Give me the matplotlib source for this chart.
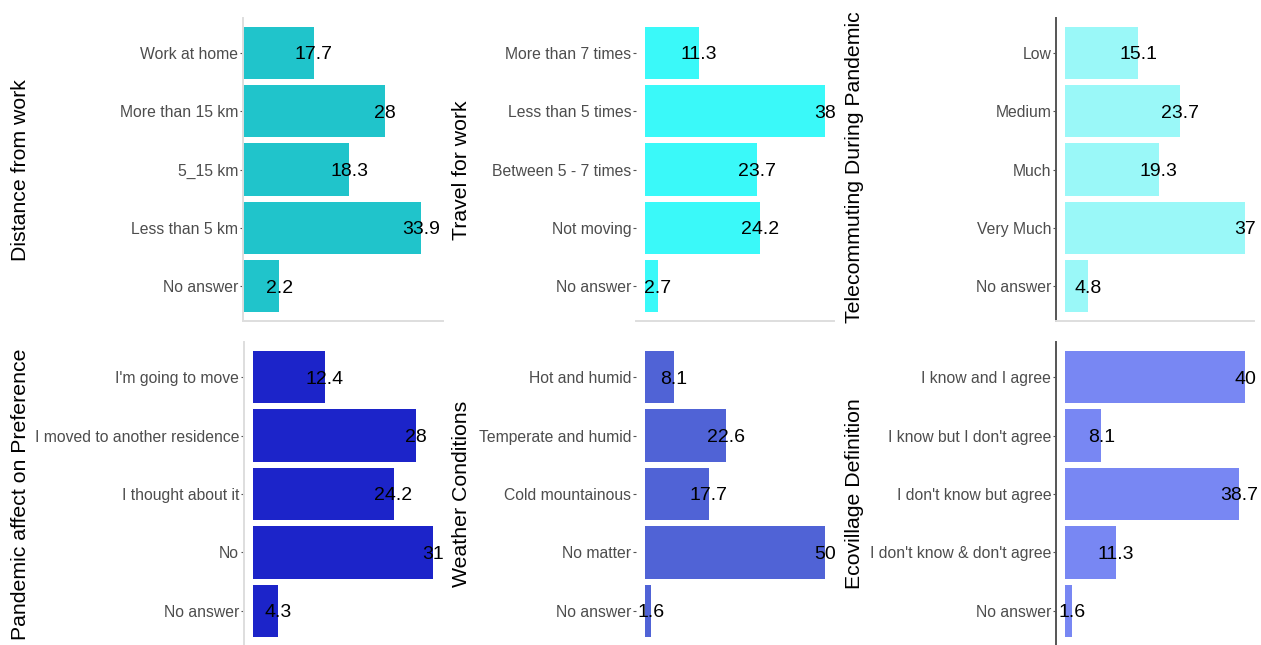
import numpy as np
import matplotlib
matplotlib.use('Agg')
from matplotlib import pyplot as plt

plt.rcParams['font.family'] = ['Liberation Sans', 'DejaVu Sans']

# Survey answers (percent), top to bottom as shown

dist_cats = ['Work at home', 'More than 15 km', '5_15 km', 'Less than 5 km', 'No answer']
dist_vals = [17.7, 28, 18.3, 33.9, 2.2]
# the drawn bars in this panel do not follow the printed numbers, so keep their lengths apart
dist_bars = [13.5, 27.0, 20.2, 33.9, 6.9]

travel_cats = ['More than 7 times', 'Less than 5 times', 'Between 5 - 7 times', 'Not moving', 'No answer']
travel_vals = [11.3, 38, 23.7, 24.2, 2.7]

tele_cats = ['Low', 'Medium', 'Much', 'Very Much', 'No answer']
tele_vals = [15.1, 23.7, 19.3, 37, 4.8]

pref_cats = ["I'm going to move", 'I moved to another residence', 'I thought about it', 'No', 'No answer']
pref_vals = [12.4, 28, 24.2, 31, 4.3]

weather_cats = ['Hot and humid', 'Temperate and humid', 'Cold mountainous', 'No matter', 'No answer']
weather_vals = [8.1, 22.6, 17.7, 50, 1.6]

eco_cats = ['I know and I agree', "I know but I don't agree", "I don't know but agree",
            "I don't know & don't agree", 'No answer']
eco_vals = [40, 8.1, 38.7, 11.3, 1.6]

W, H = 1261, 645
light = '#DEDEDE'
dark = '#555555'

fig = plt.figure(figsize=(W / 100, H / 100), dpi=100)


def box(x0, x1, y0, y1):
    # pixel box -> figure fraction
    return [x0 / W, 1 - y1 / H, (x1 - x0) / W, (y1 - y0) / H]


def panel(rect, cats, vals, bars, color, xlim, left_spine, bottom_spine):
    ax = fig.add_axes(rect)
    pos = np.arange(len(cats))
    ax.barh(pos, bars, height=0.9, color=color)
    for p, b, v in zip(pos, bars, vals):
        ax.text(b, p, '%g' % v, ha='center', va='center_baseline', fontsize=14, color='black')
    ax.set_yticks(pos)
    ax.set_yticklabels(cats)
    ax.set_ylim(len(cats) - 0.4, -0.6)
    ax.set_xlim(xlim)
    ax.set_xticks([])
    ax.tick_params(axis='y', length=2.5, width=0.8, color='#555555', pad=1,
                   labelsize=11.3, labelcolor='#4D4D4D')
    for s in ['top', 'right']:
        ax.spines[s].set_visible(False)
    if left_spine:
        ax.spines['left'].set_color(left_spine)
        ax.spines['left'].set_linewidth(1.4)
    else:
        ax.spines['left'].set_visible(False)
    if bottom_spine:
        ax.spines['bottom'].set_color(bottom_spine)
        ax.spines['bottom'].set_linewidth(1.4)
    else:
        ax.spines['bottom'].set_visible(False)
    ax.patch.set_visible(False)
    return ax


def gg_lim(vals):
    m = max(vals)
    return (-0.05 * m, 1.05 * m)


# Top row
panel(box(243, 443, 18, 321), dist_cats, dist_vals, dist_bars, '#20C4CB', (0, 38.1), light, light)
panel(box(636, 834, 18, 321), travel_cats, travel_vals, travel_vals, '#3AF9F9', gg_lim(travel_vals), None, light)
panel(box(1056, 1254, 18, 321), tele_cats, tele_vals, tele_vals, '#9AF8F8', gg_lim(tele_vals), dark, light)

# Bottom row
panel(box(244, 442, 342, 646), pref_cats, pref_vals, pref_vals, '#1C24C9', gg_lim(pref_vals), light, None)
panel(box(636, 834, 342, 646), weather_cats, weather_vals, weather_vals, '#5063D6', gg_lim(weather_vals), None, None)
panel(box(1056, 1254, 342, 646), eco_cats, eco_vals, eco_vals, '#7887F3', gg_lim(eco_vals), dark, None)

# Axis titles
titles = [('Distance from work', 21, 170), ('Travel for work', 462, 170),
          ('Telecommuting During Pandemic', 855, 167),
          ('Pandemic affect on Preference', 21, 494), ('Weather Conditions', 462, 494),
          ('Ecovillage Definition', 855, 494)]
for t, x, y in titles:
    fig.text(x / W, 1 - y / H, t, rotation=90, ha='center', va='center', fontsize=15.3, color='black')

fig.savefig('out.png', dpi=100)
